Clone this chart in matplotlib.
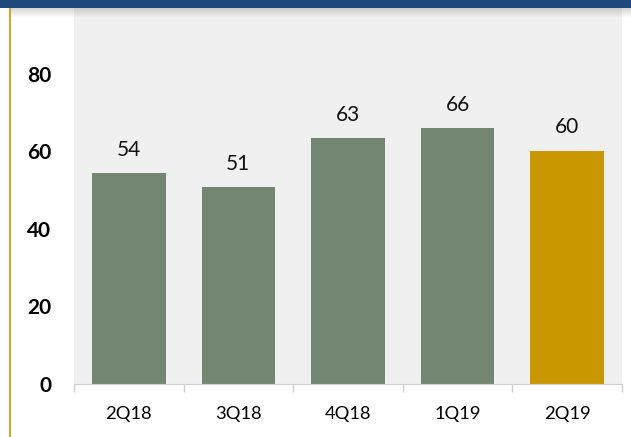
import numpy as np
import matplotlib.pyplot as plt
from matplotlib.patches import Rectangle

plt.rcParams.update({"font.family": ["Lato", "DejaVu Sans"]})

quarters = ["2Q18", "3Q18", "4Q18", "1Q19", "2Q19"]
values = [54.4, 50.8, 63.4, 66.0, 60.2]
bar_colors = ["#728672", "#728672", "#728672", "#728672", "#C99700"]
y_ticks = [0, 20, 40, 60, 80]

fig = plt.figure(figsize=(6.31, 4.37), dpi=100)
ax = fig.add_axes([74 / 631, 53 / 437, 548 / 631, 376 / 437])
ax.set_facecolor("#F0F0F0")

x = np.arange(len(quarters))
bars = ax.bar(x, values, width=0.67, color=bar_colors, zorder=2)
for b, v in zip(bars, values):
    ax.annotate(f"{v:.0f}", (b.get_x() + b.get_width() / 2, v),
                xytext=(0, 12.5), textcoords="offset points",
                ha="center", va="baseline", fontsize=15, color="#111111")

ax.set_xlim(-0.5, len(quarters) - 0.5)
ax.set_ylim(0, 97)
ax.set_yticks(y_ticks)
ax.set_yticklabels([str(t) for t in y_ticks], fontweight="bold", fontsize=15)
ax.tick_params(axis="y", length=0, pad=16.5)

ax.set_xticks(x)
ax.set_xticklabels(quarters, fontsize=13.2)
ax.set_xticks(np.arange(-0.5, len(quarters)), minor=True)
ax.tick_params(axis="x", which="major", length=0, pad=16)
ax.tick_params(axis="x", which="minor", length=6, color="#D0D0D0", width=1)

for s in ["top", "right", "left"]:
    ax.spines[s].set_visible(False)
ax.spines["bottom"].set_color("#D0D0D0")

# header band with its shadow, and the gold rule on the left
for i in range(10):
    fig.add_artist(Rectangle((10 / 631, 1 - (8 + i) / 437), 621 / 631, 1 / 437,
                             transform=fig.transFigure, color="#808080",
                             alpha=0.35 * (1 - i / 10), lw=0))
fig.add_artist(Rectangle((0, 1 - 8 / 437), 1, 8 / 437, transform=fig.transFigure,
                         color="#1F497D", lw=0))
fig.add_artist(Rectangle((9 / 631, 0), 2 / 631, 1 - 8 / 437,
                         transform=fig.transFigure, color="#D9A520", lw=0))

fig.savefig("out.png", dpi=100)
